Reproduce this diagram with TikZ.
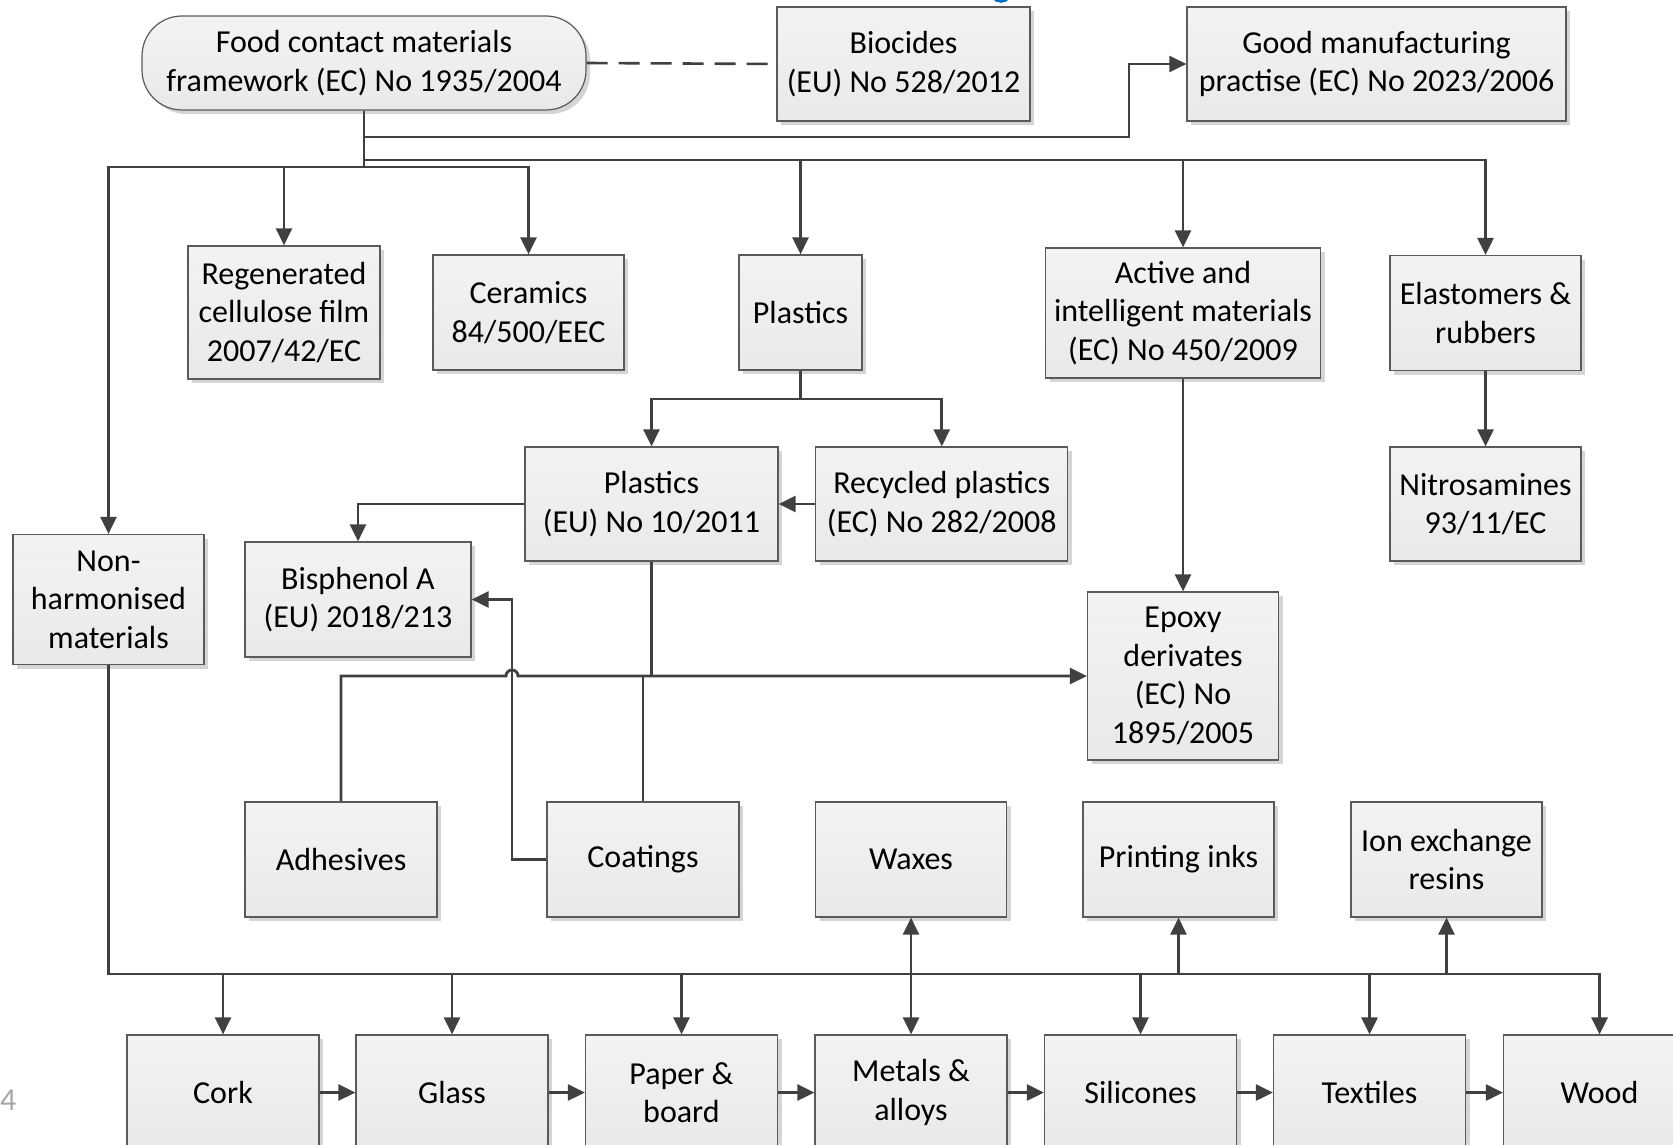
\documentclass[tikz,border=0pt]{standalone}
\usepackage{fontspec}
\setmainfont{Carlito}
\usetikzlibrary{arrows.meta,shadows,calc}
\definecolor{ln}{HTML}{404040}
\definecolor{bd}{HTML}{5A5A5A}
\definecolor{boxtop}{HTML}{F3F3F3}
\definecolor{boxbot}{HTML}{E9E9E9}
\definecolor{pgnum}{HTML}{A6A6A6}
\definecolor{ttlblue}{RGB}{0,112,192}
\newcommand\boxfont{\fontsize{32}{38.5}\selectfont}
\begin{document}
\begin{tikzpicture}[x=1pt,y=-1pt,
  box/.style={draw=bd, line width=1.2pt, top color=boxtop, bottom color=boxbot,
    drop shadow={shadow xshift=4pt,shadow yshift=-4pt,fill=black!30,opacity=.55},
    align=center, inner sep=2pt, font=\boxfont},
  sz/.style 2 args={minimum width=#1pt, minimum height=#2pt},
  conn/.style={draw=ln, line width=2.8pt},
  arr/.style={conn, -{Triangle[length=17pt,width=16pt]}},
  arrb/.style={conn, {Triangle[length=17pt,width=16pt]}-{Triangle[length=17pt,width=16pt]}},
  dsh/.style={draw=ln, line width=2.6pt, dash pattern=on 21pt off 11pt}
]
\useasboundingbox (0,0) rectangle (1673,1145);
\clip (0,0) rectangle (1673,1145);

% title fragment and page number
\draw[line width=2.5pt, draw=ttlblue] (993,-3) .. controls (996,3) and (1006,3) .. (1009,-3);
\node[anchor=base west, inner sep=0pt, text=pgnum, font=\boxfont] (pgn) at (0,1110) {4};

% top row
\node[box, sz={444}{94}, rounded corners=40pt] (food) at (364,63) {Food contact materials\\framework (EC) No 1935/2004};
\node[box, sz={253}{114}] (bio) at (903.5,64) {Biocides\\(EU) No 528/2012};
\node[box, sz={379}{114}] (gmp) at (1376.5,64) {Good manufacturing\\practise (EC) No 2023/2006};

% second row
\node[box, sz={192}{133}] (regen) at (284,312.5) {Regenerated\\cellulose film\\2007/42/EC};
\node[box, sz={191}{115}] (ceram) at (528.5,312.5) {Ceramics\\84/500/EEC};
\node[box, sz={123}{115}] (plast) at (800.5,312.5) {Plastics};
\node[box, sz={275}{130}] (act) at (1183,313) {Active and\\intelligent materials\\(EC) No 450/2009};
\node[box, sz={191}{115}] (elast) at (1485.5,313) {Elastomers \&\\rubbers};

% third row
\node[box, sz={253}{114}] (pleu) at (651.5,504) {Plastics\\(EU) No 10/2011};
\node[box, sz={252}{114}] (rec) at (941.75,504) {Recycled plastics\\(EC) No 282/2008};
\node[box, sz={191}{114}] (nitro) at (1485.5,504) {Nitrosamines\\93/11/EC};
\node[box, sz={226}{115}] (bis) at (358,599.5) {Bisphenol A\\(EU) 2018/213};
\node[box, sz={191}{130}] (nonh) at (108.5,599.5) {Non-\\harmonised\\materials};
\node[box, sz={191}{168}] (epx) at (1183,676) {Epoxy\\derivates\\(EC) No\\1895/2005};

% fourth row
\node[box, sz={192}{115}] (adh) at (341,859.5) {Adhesives};
\node[box, sz={192}{115}] (coat) at (643,859.5) {Coatings};
\node[box, sz={191}{115}] (wax) at (911,859.5) {Waxes};
\node[box, sz={191}{115}] (ink) at (1178.5,859.5) {Printing inks};
\node[box, sz={191}{115}] (ion) at (1446.5,859.5) {Ion exchange\\resins};

% bottom row
\node[box, sz={192}{115}] (cork) at (223,1092.5) {Cork};
\node[box, sz={192}{115}] (glass) at (452,1092.5) {Glass};
\node[box, sz={192}{115}] (paper) at (681.5,1092.5) {Paper \&\\board};
\node[box, sz={192}{115}] (met) at (911,1092.5) {Metals \&\\alloys};
\node[box, sz={192}{115}] (sil) at (1140.5,1092.5) {Silicones};
\node[box, sz={192}{115}] (tex) at (1369.5,1092.5) {Textiles};
\node[box, sz={192}{115}] (wood) at (1599.5,1092.5) {Wood};

% helper coordinates
\coordinate (gmpturn) at (1129,137);
\coordinate (busA) at (0,160);
\coordinate (busB) at (0,167);
\coordinate (split) at (0,399);
\coordinate (hop) at (512,676);
\coordinate (busC) at (0,974);

% top connectors
\draw[dsh] (food.east) -- (bio.west);
\draw[arr] (food.south) |- (gmpturn) |- (gmp.west);
\foreach \c in {plast,act,elast}
  \draw[arr] (food.south) -- (food.south |- busA) -| (\c.north);
\foreach \c in {nonh,regen,ceram}
  \draw[arr] (food.south) -- (food.south |- busB) -| (\c.north);

% plastics
\draw[arr] (plast.south) -- (plast.south |- split) -| (pleu.north);
\draw[arr] (plast.south) -- (plast.south |- split) -| (rec.north);
\draw[arr] (rec.west) -- (pleu.east);
\draw[arr] (pleu.west) -| (bis.north);
\draw[arr] (act.south) -- (epx.north);
\draw[arr] (elast.south) -- (nitro.north);

% to epoxy
\draw[conn] (pleu.south) -- (pleu.south |- epx.west);
\draw[conn] (coat.north) -- (coat.north |- epx.west);
\draw[arr] (adh.north) -- (adh.north |- epx.west) -- ([xshift=-6pt]hop)
  arc[start angle=180, end angle=0, radius=6pt] -- (epx.west);
\draw[arr] (coat.west) -- (coat.west -| hop) -- (hop |- bis.east) -- (bis.east);

% non-harmonised bus
\draw[arr] (nonh.south) |- (wood.north |- busC) -- (wood.north);
\foreach \c in {cork,glass,paper,sil,tex}
  \draw[arr] (\c.north |- busC) -- (\c.north);
\foreach \c in {ink,ion}
  \draw[arr] (\c.south |- busC) -- (\c.south);
\draw[arrb] (wax.south) -- (met.north);

% bottom chain
\draw[arr] (cork.east) -- (glass.west);
\draw[arr] (glass.east) -- (paper.west);
\draw[arr] (paper.east) -- (met.west);
\draw[arr] (met.east) -- (sil.west);
\draw[arr] (sil.east) -- (tex.west);
\draw[arr] (tex.east) -- (wood.west);
\end{tikzpicture}
\end{document}
